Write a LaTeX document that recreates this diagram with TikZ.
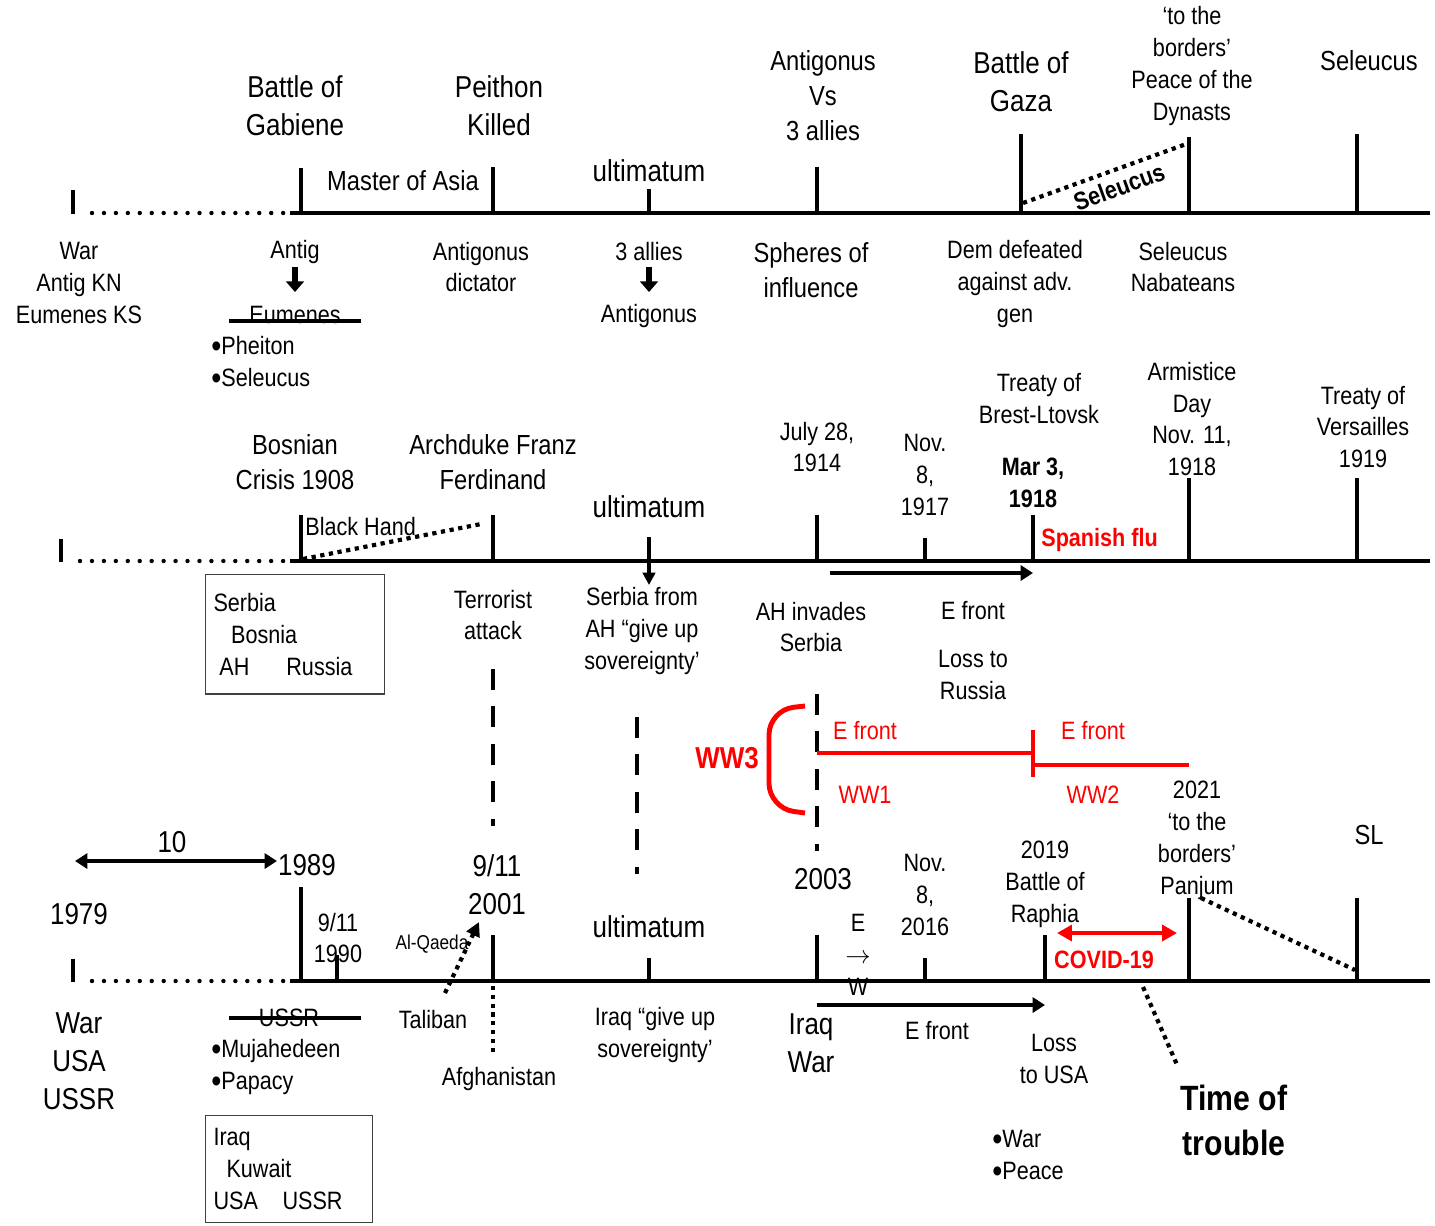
\documentclass[tikz,border=0pt]{standalone}
\usepackage{fontspec}
\setmainfont[FakeStretch=0.86]{Liberation Sans}
\usetikzlibrary{arrows.meta,positioning}
\definecolor{alarm}{RGB}{255,0,0}
\newcommand{\sizeS}{\fontsize{14.3}{18.2}\selectfont}
\newcommand{\sizeM}{\fontsize{15.7}{19.9}\selectfont}
\newcommand{\sizeL}{\fontsize{17.2}{21.6}\selectfont}
\newcommand{\sizeT}{\fontsize{20}{25.6}\selectfont\bfseries}
\newcommand{\blob}{{\fontsize{19}{0}\selectfont\raisebox{-0.09em}{•}}}
\tikzstyle{axis} = [draw, line width=2.8pt]
\tikzstyle{tick} = [draw, line width=2.3pt]
\tikzstyle{gap} = [draw, line width=2.5pt, line cap=round, dash pattern=on 0pt off 6.8pt]
\tikzstyle{link} = [draw, line width=2.4pt, dash pattern=on 2.4pt off 2.6pt]
\tikzstyle{era} = [draw, line width=2.8pt, dash pattern=on 11.9pt off 9.4pt]
\tikzstyle{strike} = [draw, line width=2.6pt]
\tikzstyle{push} = [draw, line width=2.8pt, -{Triangle[length=7pt,width=8.5pt]}]
\tikzstyle{drop} = [draw, line width=3pt, -{Triangle[length=6pt,width=10pt]}]
\tikzstyle{lab} = [inner sep=0pt, align=center]
\tikzstyle{labS} = [lab, font=\sizeS]
\tikzstyle{labM} = [lab, font=\sizeM]
\tikzstyle{labL} = [lab, font=\sizeL]
\tikzstyle{infobox} = [draw=black!75, line width=0.7pt, align=left, font=\sizeS, inner xsep=4.5pt, anchor=north west]

\begin{document}
\begin{tikzpicture}[x=0.02cm, y=-0.02cm]
    \path[fill=white, use as bounding box] (0,0) rectangle (1435,1225);

    % --- Diadochi ---
    \coordinate (a0) at (73,213);
    \coordinate (a1) at (301,213);
    \coordinate (a2) at (493,213);
    \coordinate (a3) at (649,213);
    \coordinate (a4) at (817,213);
    \coordinate (a5) at (1021,213);
    \coordinate (a6) at (1189,213);
    \coordinate (a7) at (1357,213);
    \draw[axis] (a0) ++(0,1) -- ++(0,-24);
    \draw[gap] (92,213) -- (284,213);
    \draw[axis] (290,213) -- (1430,213);
    \draw[tick] (a1) -- ++(0,-45);
    \draw[tick] (a2) -- ++(0,-46);
    \draw[tick] (a3) -- ++(0,-24);
    \draw[tick] (a4) -- ++(0,-46);
    \draw[tick] (a5) -- ++(0,-79);
    \draw[tick] (a6) -- ++(0,-76);
    \draw[tick] (a7) -- ++(0,-79);
    \draw[link] (1023,203) -- (1189,143);
    \node[lab, font=\sizeS\bfseries, rotate=20] (selrot) at (1119,187) {Seleucus};

    \node[labL] (gabiene) at (295,106) {Battle of\\Gabiene};
    \node[labL] (peithon) at (499,106) {Peithon\\Killed};
    \node[labM] (masterasia) at (403,181) {Master of Asia};
    \node[labL] (ultA) at (649,171) {ultimatum};
    \node[labM] (versus) at (823,96) {Antigonus\\Vs\\3 allies};
    \node[labL] (gaza) at (1021,82) {Battle of\\Gaza};
    \node[labS] (dynasts) at (1192,66) {‘to the\\borders’\\Peace of the\\Dynasts};
    \node[labM] (seleucus) at (1369,61) {Seleucus};

    \node[labS] (warA) at (79,283) {War\\Antig KN\\Eumenes KS};
    \node[labS] (antig) at (295,252) {Antig};
    \draw[drop] (295,267) -- (295,292);
    \node[labS] (eumenes) at (295,315) {Eumenes};
    \draw[strike] (229,321) -- (361,321);
    \node[labS, anchor=west] (pheiton) at (211,347) {\blob Pheiton};
    \node[labS, anchor=west] (seleucusb) at (211,379) {\blob Seleucus};
    \node[labS] (dictator) at (481,267) {Antigonus\\dictator};
    \node[labS] (alliesA) at (649,252) {3 allies};
    \draw[drop] (649,267) -- (649,292);
    \node[labS] (antigonus) at (649,316) {Antigonus};
    \node[labM] (spheres) at (811,270) {Spheres of\\influence};
    \node[labS] (defeated) at (1015,284) {Dem defeated\\against adv.\\gen};
    \node[labS] (nabateans) at (1183,267) {Seleucus\\Nabateans};

    % --- WW1 ---
    \coordinate (b0) at (61,561);
    \coordinate (b1) at (301,561);
    \coordinate (b2) at (493,561);
    \coordinate (b3) at (649,561);
    \coordinate (b4) at (817,561);
    \coordinate (b5) at (925,561);
    \coordinate (b6) at (1033,561);
    \coordinate (b7) at (1189,561);
    \coordinate (b8) at (1357,561);
    \draw[axis] (b0) ++(0,1) -- ++(0,-23);
    \draw[gap] (80,561) -- (284,561);
    \draw[axis] (290,561) -- (1430,561);
    \draw[tick] (b1) -- ++(0,-46);
    \draw[tick] (b2) -- ++(0,-46);
    \draw[tick, -{Triangle[length=7pt,width=7pt]}] (b3) ++(0,-24) -- ++(0,48);
    \draw[tick] (b4) -- ++(0,-46);
    \draw[tick] (b5) -- ++(0,-23);
    \draw[tick] (b6) -- ++(0,-46);
    \draw[tick] (b7) -- ++(0,-83);
    \draw[tick] (b8) -- ++(0,-83);
    \draw[link] (303,559) -- (481,524);
    \node[labS, anchor=west] (blackhand) at (305,527) {Black Hand};

    \node[labM] (bosnian) at (295,462) {Bosnian\\Crisis 1908};
    \node[labM] (archduke) at (493,462) {Archduke Franz\\Ferdinand};
    \node[labL] (ultB) at (649,507) {ultimatum};
    \node[labS] (july) at (817,447) {July 28,\\1914};
    \node[labS] (novA) at (925,475) {Nov.\\8,\\1917};
    \node[labS] (brest) at (1039,399) {Treaty of\\Brest-Ltovsk};
    \node[labS, font=\sizeS\bfseries] (march) at (1033,483) {Mar 3,\\1918};
    \node[labS, font=\sizeS\bfseries, text=alarm, anchor=west] (flu) at (1041,540) {Spanish flu};
    \node[labS] (armistice) at (1192,419) {Armistice\\Day\\Nov. 11,\\1918};
    \node[labS] (versailles) at (1363,427) {Treaty of\\Versailles\\1919};

    \draw[push] (830,573) -- (b6 |- 0,573);
    \node[infobox, text width=93pt, minimum height=68pt] (balkans) at (205,574)
        {Serbia\\\hspace*{10pt}Bosnia\\\hspace*{3.4pt}AH\hspace{21pt}Russia};
    \node[labS] (terror) at (493,615) {Terrorist\\attack};
    \node[labS] (serbiafrom) at (642,631) {Serbia from\\AH “give up\\sovereignty’};
    \node[labS] (invades) at (811,627) {AH invades\\Serbia};
    \node[labS] (efrontA) at (973,611) {E front};
    \node[labS] (russia) at (973,675) {Loss to\\Russia};

    % --- links between the lines ---
    \draw[era] (493,669) -- (493,826);
    \draw[era] (637,717) -- (637,874);
    \draw[era] (817,694) -- (817,851);

    \draw[alarm, line width=2.8pt, rounded corners=14pt] (805,706) -- (769,710) -- (769,808) -- (805,813);
    \node[labL, font=\sizeL\bfseries, text=alarm] (ww3) at (727,758) {WW3};
    \coordinate (r1) at (817,753);
    \coordinate (r2) at (1033,753);
    \coordinate (r3) at (1189,765);
    \draw[alarm, line width=2.3pt] (r1) -- (r2);
    \draw[alarm, line width=2.3pt] (1033,730) -- (1033,777);
    \draw[alarm, line width=2.8pt] (1033,765) -- (r3);
    \node[labS, text=alarm] (efrontR) at (865,731) {E front};
    \node[labS, text=alarm] (efrontS) at (1093,731) {E front};
    \node[labS, text=alarm] (ww1) at (865,795) {WW1};
    \node[labS, text=alarm] (ww2) at (1093,795) {WW2};

    % --- today ---
    \coordinate (c0) at (73,981);
    \coordinate (c1) at (301,981);
    \coordinate (c2) at (337,981);
    \coordinate (c3) at (493,981);
    \coordinate (c4) at (649,981);
    \coordinate (c5) at (817,981);
    \coordinate (c6) at (925,981);
    \coordinate (c7) at (1045,981);
    \coordinate (c8) at (1189,981);
    \coordinate (c9) at (1357,981);
    \draw[axis] (c0) ++(0,1) -- ++(0,-23);
    \draw[gap] (92,981) -- (284,981);
    \draw[axis] (290,981) -- (1430,981);
    \draw[tick] (c1) -- ++(0,-94);
    \draw[tick] (c2) -- ++(0,-26);
    \draw[tick] (c3) -- ++(0,-46);
    \draw[tick] (c4) -- ++(0,-23);
    \draw[tick] (c5) -- ++(0,-46);
    \draw[tick] (c6) -- ++(0,-23);
    \draw[tick] (c7) -- ++(0,-46);
    \draw[tick] (c8) -- ++(0,-83);
    \draw[tick] (c9) -- ++(0,-83);
    \draw[link] (c3) ++(0,5) -- ++(0,66);

    \coordinate (tenL) at (75,861);
    \coordinate (tenR) at (277,861);
    \draw[axis, {Triangle[length=7pt,width=8.5pt]}-{Triangle[length=7pt,width=8.5pt]}] (tenL) -- (tenR);
    \node[labL] (ten) at (172,842) {10};
    \node[labL] (y1989) at (307,865) {1989};
    \node[labL] (y1979) at (79,914) {1979};
    \node[labS] (y1990) at (338,938) {9/11\\1990};
    \node[labL] (y2001) at (497,885) {9/11\\2001};
    \node[lab, font=\fontsize{11.4}{14}\selectfont] (qaeda) at (432,944) {Al-Qaeda};
    \coordinate (qfoot) at (445,993);
    \coordinate (qhead) at (479,922);
    \draw[link, -{Triangle[length=8pt,width=8pt]}] (qfoot) -- (qhead);
    \node[labL] (ultC) at (649,927) {ultimatum};
    \node[labL] (y2003) at (823,879) {2003};
    \node[labS] (eastwest) at (858,955) {E\\$\rightarrow$\\W};
    \node[labS] (novB) at (925,895) {Nov.\\8,\\2016};
    \node[labS] (raphia) at (1045,884) {2019\\Battle of\\Raphia};
    \node[labS] (panjum) at (1197,840) {2021\\‘to the\\borders’\\Panjum};
    \node[labM] (sl) at (1369,835) {SL};
    \draw[link] (1201,898) -- (1355,970);
    \draw[alarm, line width=2.8pt, {Triangle[length=8.5pt,width=9pt]}-{Triangle[length=8.5pt,width=9pt]}] (1057,933) -- (1177,933);
    \node[labS, font=\sizeS\bfseries, text=alarm] (covid) at (1104,960) {COVID-19};
    \coordinate (tfoot) at (1178,1067);
    \draw[link] (1143,987) -- (tfoot);
    \node[lab, font=\sizeT] (trouble) at (1234,1120) {Time of\\trouble};

    \node[labL] (warC) at (79,1061) {War\\USA\\USSR};
    \node[labS] (ussr) at (289,1018) {USSR};
    \draw[strike] (229,1018) -- (361,1018);
    \node[labS, anchor=west] (mujahedeen) at (211,1051) {\blob Mujahedeen};
    \node[labS, anchor=west] (papacy) at (211,1083) {\blob Papacy};
    \node[labS] (taliban) at (433,1019) {Taliban};
    \node[labS] (afghan) at (499,1079) {Afghanistan};
    \node[labS] (iraqgive) at (655,1035) {Iraq “give up\\sovereignty’};
    \node[labL] (iraqwar) at (811,1043) {Iraq\\War};
    \draw[push] (c5 |- 0,1005) -- (c7 |- 0,1005);
    \node[labS] (efrontB) at (937,1031) {E front};
    \node[labS] (lossusa) at (1054,1059) {Loss\\to USA};
    \node[labS, align=left, anchor=west] (warpeace) at (992,1156) {\blob War\\\blob Peace};
    \node[infobox, text width=86pt, minimum height=61pt] (gulf) at (205,1115)
        {Iraq\\\hspace*{7.4pt}Kuwait\\USA\hspace{14pt}USSR};
\end{tikzpicture}
\end{document}
